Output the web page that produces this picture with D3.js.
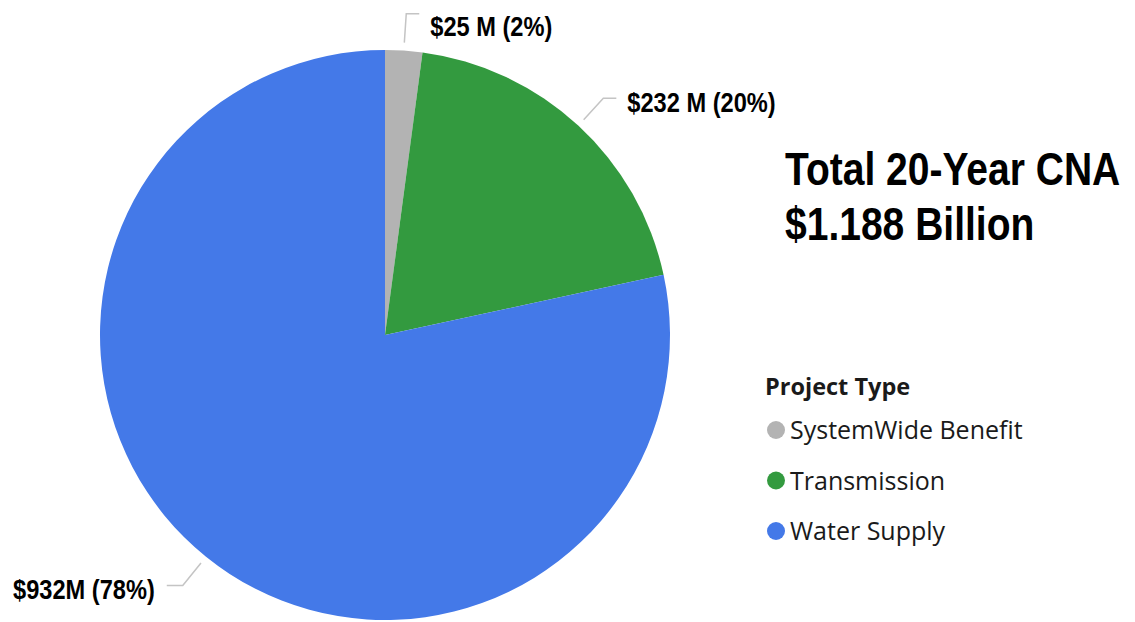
<!DOCTYPE html>
<html>
<head>
<meta charset="utf-8">
<script src="https://cdn.jsdelivr.net/npm/d3@7"></script>
<style>
  html, body { margin: 0; padding: 0; background: #fff; }
  svg { display: block; }
</style>
</head>
<body>
<svg id="chart" width="1135" height="622"></svg>
<script>
const categories = ["SystemWide Benefit", "Transmission", "Water Supply"];
const values = [25, 232, 932];
const valueLabels = ["$25 M (2%)", "$232 M (20%)", "$932M (78%)"];
const colors = ["#b3b3b3", "#339a3f", "#4479e8"];
const titleLines = ["Total 20-Year CNA", "$1.188 Billion"];
const legendTitle = "Project Type";

const svg = d3.select("#chart");
const cx = 385, cy = 335, R = 285;

const pie = d3.pie().sort(null).value(d => d.value);
const data = pie(categories.map((c, i) => ({ cat: c, value: values[i], label: valueLabels[i], color: colors[i] })));
const arc = d3.arc().innerRadius(0).outerRadius(R);
const lineArc1 = d3.arc().innerRadius(293).outerRadius(293);
const lineArc2 = d3.arc().innerRadius(322).outerRadius(322);

const g = svg.append("g").attr("transform", `translate(${cx},${cy})`);
g.selectAll("path.slice").data(data).join("path")
  .attr("class", "slice")
  .attr("d", arc)
  .attr("fill", d => d.data.color);

const labelFont = "'Liberation Sans', Arial, sans-serif";
data.forEach(d => {
  const mid = (d.startAngle + d.endAngle) / 2;
  const p1 = lineArc1.centroid(d);
  const p2 = lineArc2.centroid(d);
  const right = Math.sin(mid) >= 0;
  const hx = p2[0] + (right ? 13 : -16);
  g.append("polyline")
    .attr("points", [p1, p2, [hx, p2[1]]].map(p => p.join(",")).join(" "))
    .attr("fill", "none")
    .attr("stroke", "#c4c4c4")
    .attr("stroke-width", 1.5);
  const ty = Math.max(p2[1] + 4, 26 - cy);
  const tx = hx + (right ? 11 : -12);
  const t = g.append("text")
    .attr("text-anchor", right ? "start" : "end")
    .attr("transform", `translate(${tx},${ty}) scale(0.875,1)`)
    .attr("dy", "0.36em")
    .attr("font-family", labelFont)
    .attr("font-weight", "bold")
    .attr("font-size", 27)
    .attr("fill", "#000")
    .text(d.data.label);
});

// Title
titleLines.forEach((line, i) => {
  svg.append("text")
    .attr("transform", `translate(785,${185 + i * 55}) scale(0.83,1)`)
    .attr("font-family", labelFont)
    .attr("font-weight", "bold")
    .attr("font-size", 47)
    .attr("fill", "#000")
    .text(line);
});

// Legend
const legendFont = "'Open Sans', 'Noto Sans', sans-serif";
svg.append("text")
  .attr("x", 765).attr("y", 395)
  .attr("font-family", legendFont)
  .attr("font-weight", "bold")
  .attr("font-size", 23.5)
  .attr("fill", "#1a1a1a")
  .text(legendTitle);

const ly = d3.scalePoint().domain(categories).range([430, 531]);
const leg = svg.selectAll("g.leg").data(data).join("g")
  .attr("class", "leg")
  .attr("transform", d => `translate(776,${ly(d.data.cat)})`);
leg.append("circle").attr("r", 9).attr("fill", d => d.data.color);
leg.append("text")
  .attr("x", 14).attr("dy", "0.36em")
  .attr("font-family", legendFont)
  .attr("font-size", 25)
  .attr("fill", "#1a1a1a")
  .text(d => d.data.cat);
</script>
</body>
</html>
